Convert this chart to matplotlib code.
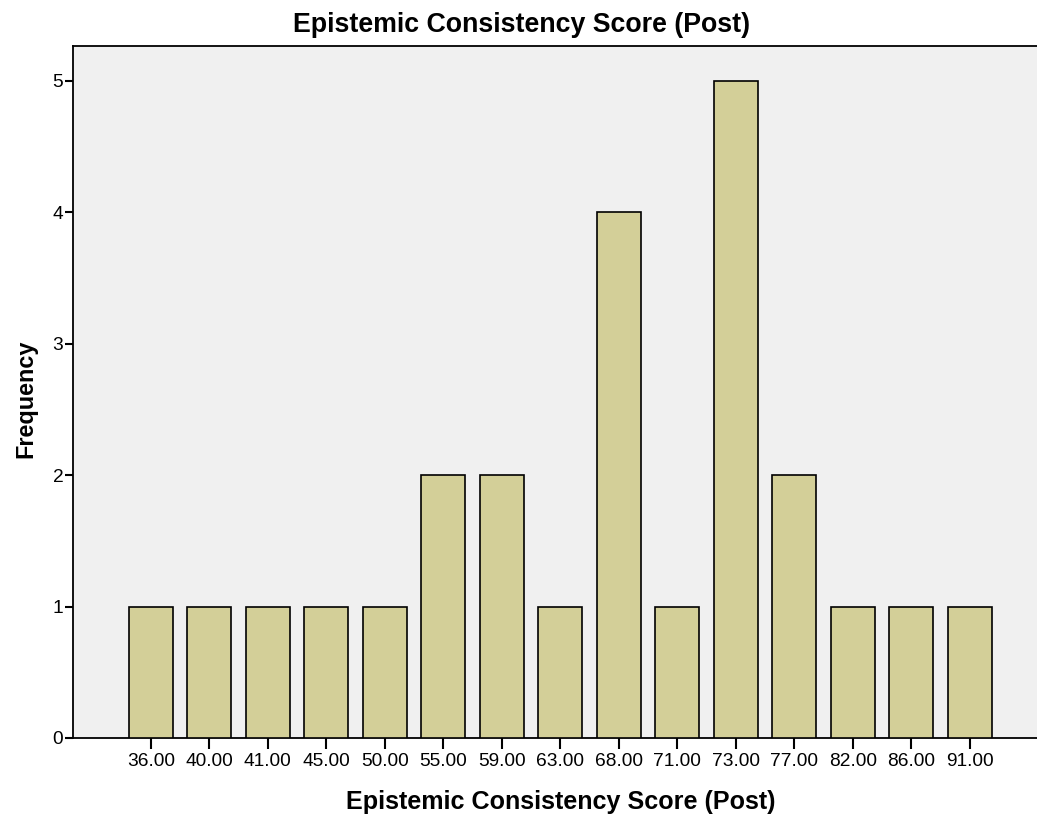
import matplotlib.pyplot as plt
import numpy as np

plt.rcParams['font.family'] = ['Liberation Sans', 'DejaVu Sans']

scores = ['36.00', '40.00', '41.00', '45.00', '50.00', '55.00', '59.00', '63.00',
          '68.00', '71.00', '73.00', '77.00', '82.00', '86.00', '91.00']
freq = [1, 1, 1, 1, 1, 2, 2, 1, 4, 1, 5, 2, 1, 1, 1]
yticks = [0, 1, 2, 3, 4, 5]

fig = plt.figure(figsize=(10.37, 8.18), dpi=100)
ax = fig.add_axes([0.0704, 0.0978, 0.9296, 0.846])
ax.set_facecolor('#F0F0F0')

x = np.arange(len(scores))
ax.bar(x, freq, width=0.75, color='#D3CF98', edgecolor='black', linewidth=1.2, zorder=3)

ax.set_xlim(-1.33, 15.15)
ax.set_ylim(0, 5.266)
ax.set_xticks(x)
ax.set_xticklabels(scores, fontsize=13.8)
ax.set_yticks(yticks)
ax.set_yticklabels([str(v) for v in yticks], fontsize=13.8)
ax.tick_params(axis='x', length=8, width=1.5, pad=3)
ax.tick_params(axis='y', length=6, width=1.5, pad=1)

for s in ['left', 'bottom', 'top']:
    ax.spines[s].set_linewidth(1.3)
ax.spines['right'].set_visible(False)

fig.suptitle('Epistemic Consistency Score (Post)', x=0.503, y=0.985,
             fontsize=19.3, fontweight='bold', va='top')
ax.set_xlabel('Epistemic Consistency Score (Post)', fontsize=18.1, fontweight='bold')
ax.xaxis.set_label_coords(0.506, -0.075)
ax.set_ylabel('Frequency', fontsize=16.8, fontweight='bold')
ax.yaxis.set_label_coords(-0.037, 0.49)

fig.savefig('out.png', dpi=100)
